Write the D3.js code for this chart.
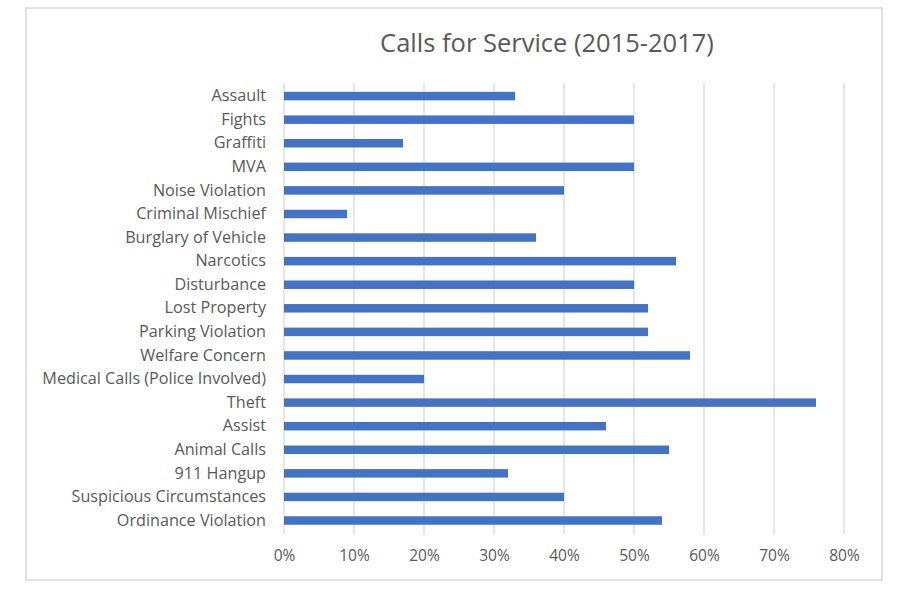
<!DOCTYPE html>
<html>
<head>
<meta charset="utf-8">
<script src="https://cdn.jsdelivr.net/npm/d3@7"></script>
<style>
  body { margin: 0; background: #fff; }
  svg text { font-family: "Open Sans", Lato, sans-serif; fill: #595959; font-variant-ligatures: none; }
</style>
</head>
<body>
<svg width="900" height="598"></svg>
<script>
// values
const categories = [
  "Assault", "Fights", "Graffiti", "MVA", "Noise Violation",
  "Criminal Mischief", "Burglary of Vehicle", "Narcotics", "Disturbance",
  "Lost Property", "Parking Violation", "Welfare Concern",
  "Medical Calls (Police Involved)", "Theft", "Assist", "Animal Calls",
  "911 Hangup", "Suspicious Circumstances", "Ordinance Violation"
];
const shares = [
  0.33, 0.50, 0.17, 0.50, 0.40,
  0.09, 0.36, 0.56, 0.50,
  0.52, 0.52, 0.58,
  0.20, 0.76, 0.46, 0.55,
  0.32, 0.40, 0.54
];
const xTicks = [0, 0.1, 0.2, 0.3, 0.4, 0.5, 0.6, 0.7, 0.8];
const title = "Calls for Service (2015-2017)";

const data = categories.map((c, i) => ({ cat: c, val: shares[i] }));

const svg = d3.select("svg");

// chart frame
svg.append("rect")
  .attr("x", 26)
  .attr("y", 8)
  .attr("width", 856)
  .attr("height", 572)
  .attr("fill", "#fff")
  .attr("stroke", "#d9d9d9")
  .attr("stroke-width", 1.5);

const x = d3.scaleLinear()
  .domain([0, 0.8])
  .range([284, 844]);

const y = d3.scaleBand()
  .domain(categories)
  .range([84.3, 532.3])
  .paddingInner(0.64)
  .paddingOuter(0.32);

// vertical gridlines
svg.append("g")
  .selectAll("line")
  .data(xTicks)
  .enter().append("line")
  .attr("x1", d => x(d))
  .attr("x2", d => x(d))
  .attr("y1", y.range()[0] - 1)
  .attr("y2", y.range()[1] + 2)
  .attr("stroke", "#d9d9d9")
  .attr("stroke-width", 1.3);

// bars
svg.append("g")
  .selectAll("rect")
  .data(data)
  .enter().append("rect")
  .attr("x", x(0))
  .attr("y", d => y(d.cat))
  .attr("width", d => x(d.val) - x(0))
  .attr("height", y.bandwidth())
  .attr("fill", "#4472c4");

// category labels
const yAxis = svg.append("g")
  .attr("transform", `translate(${x(0)},0)`)
  .call(d3.axisLeft(y).tickSize(0).tickPadding(18));
yAxis.select(".domain").remove();
yAxis.selectAll("text")
  .style("font-size", "16.2px")
  .attr("fill", "#595959");

// percent labels
const xAxis = svg.append("g")
  .attr("transform", `translate(0,${y.range()[1]})`)
  .call(d3.axisBottom(x).tickValues(xTicks).tickFormat(d3.format(".0%")).tickSize(0).tickPadding(18));
xAxis.select(".domain").remove();
xAxis.selectAll("text")
  .style("font-size", "15.5px")
  .attr("fill", "#595959");

// title
svg.append("text")
  .attr("x", 547)
  .attr("y", 52)
  .attr("text-anchor", "middle")
  .style("font-size", "25.5px")
  .text(title);
</script>
</body>
</html>
